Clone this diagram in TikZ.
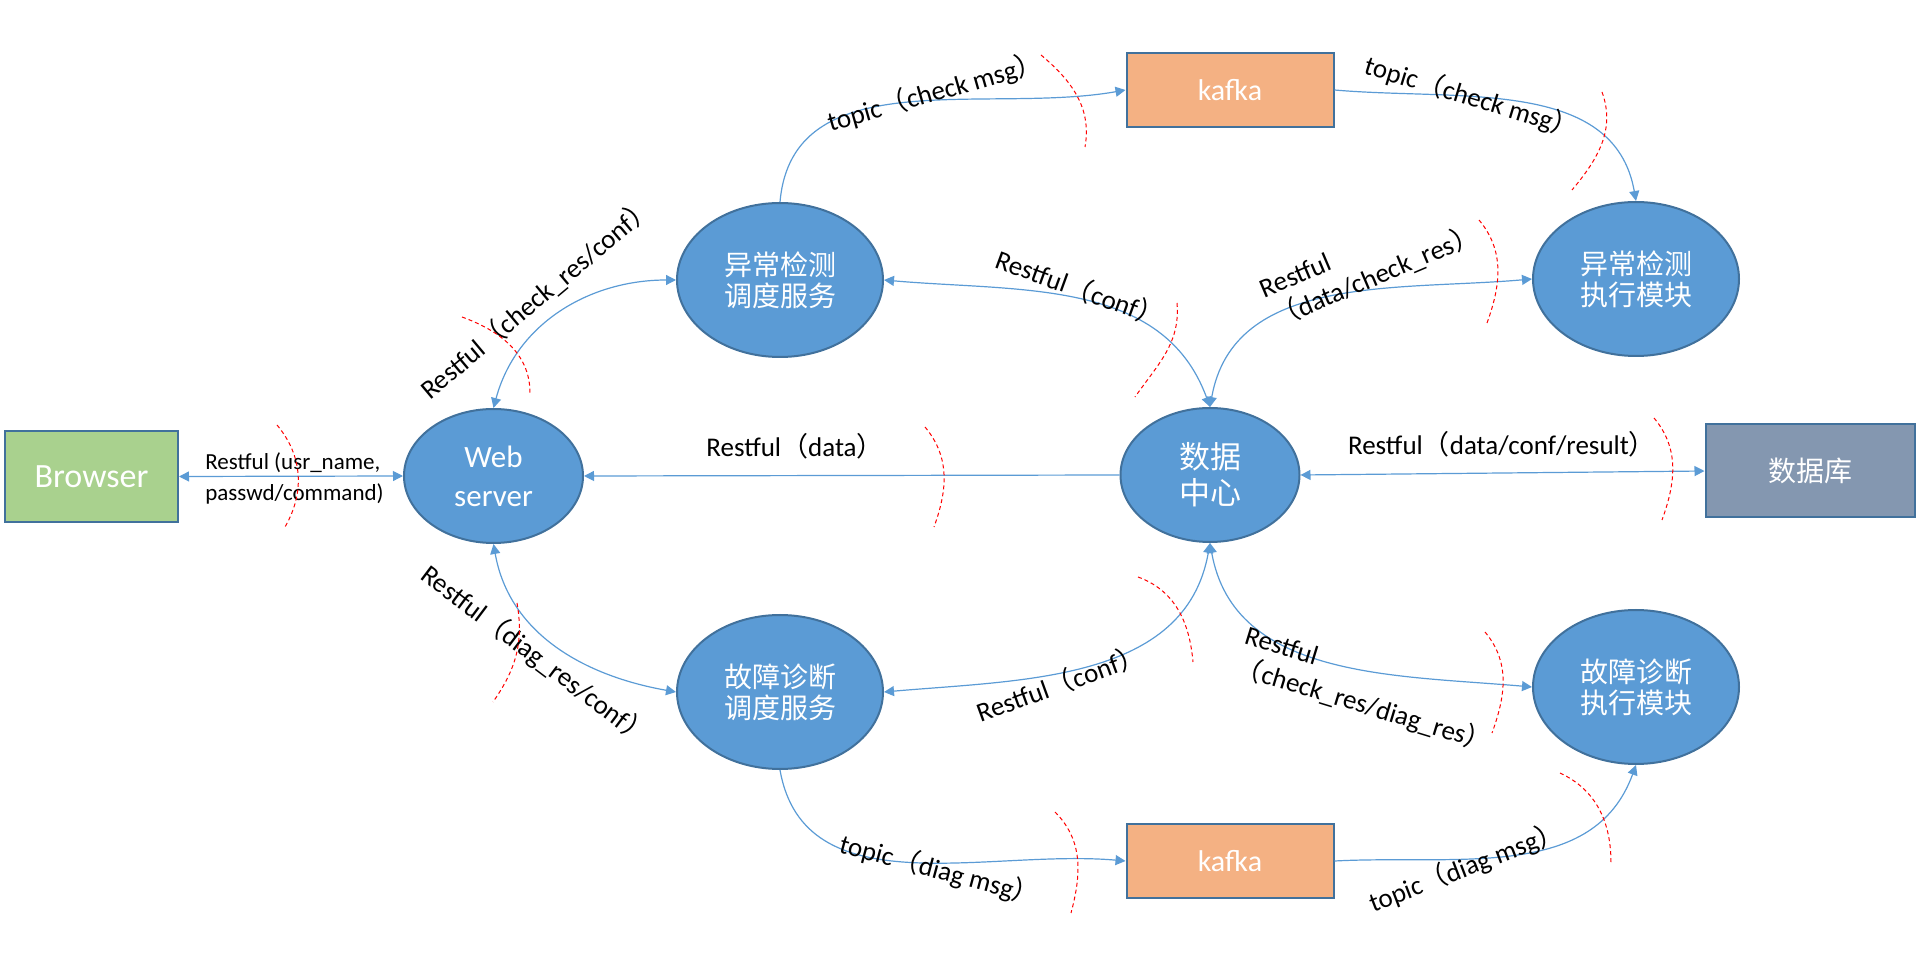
\documentclass[tikz,border=0pt]{standalone}
\usepackage{fontspec}
\setmainfont{Carlito}
\newfontfamily\cjk{Noto Sans CJK SC}
\usepackage{tikz}
\usetikzlibrary{arrows.meta, positioning, shapes.geometric}

\definecolor{nodeblue}{HTML}{5B9BD5}
\definecolor{rimblue}{HTML}{41719C}
\definecolor{kafkaorange}{HTML}{F4B183}
\definecolor{browsergreen}{HTML}{A9D18E}
\definecolor{dbgray}{HTML}{8497B0}

\newcommand{\fwl}{{\cjk （}}
\newcommand{\fwr}{{\cjk ）}}

\begin{document}
\begin{tikzpicture}[x=0.5pt, y=0.5pt,
    >={Triangle[length=5pt,width=5pt]},
    proc/.style={ellipse, draw=rimblue, line width=1pt, fill=nodeblue, text=white,
        inner sep=0pt, align=center, minimum width=103pt, minimum height=77pt,
        font=\cjk\fontsize{14}{15.5}\selectfont},
    hubproc/.style={proc, minimum width=89.5pt, minimum height=67pt},
    rectbox/.style={rectangle, draw=rimblue, line width=1pt, text=white, inner sep=0pt},
    oneway/.style={draw=nodeblue, line width=0.6pt, ->},
    twoway/.style={draw=nodeblue, line width=0.6pt, <->},
    lbl/.style={font=\fontsize{13.5}{16}\selectfont, inner sep=1pt},
    cut/.style={red, line width=0.5pt, dash pattern=on 2pt off 1.5pt}]

        \useasboundingbox (0,0) rectangle (1919,960);

        \node[rectbox, fill=browsergreen, minimum width=86.5pt, minimum height=45.5pt,
            font=\fontsize{17}{20}\selectfont] (browser) at (91.5,483.5) {Browser};
        \node[hubproc, font=\fontsize{15.5}{19.5}\selectfont] (web) at (493.5,484) {Web\\server};
        \node[hubproc, font=\cjk\fontsize{15.5}{18}\selectfont] (dc) at (1210,485) {数据\\中心};
        \node[rectbox, fill=dbgray, minimum width=104.5pt, minimum height=46.5pt,
            font=\cjk\fontsize{14}{16}\selectfont] (db) at (1810,489) {数据库};

        \node[proc] (csched) at (780,680) {异常检测\\调度服务};
        \node[proc] (dsched) at (780,268) {故障诊断\\调度服务};
        \node[proc] (cexec) at (1636,681) {异常检测\\执行模块};
        \node[proc] (dexec) at (1636,273) {故障诊断\\执行模块};

        \node[rectbox, fill=kafkaorange, minimum width=103.5pt, minimum height=37pt,
            font=\fontsize{15}{18}\selectfont] (kafkaup) at (1230,870) {kafka};
        \node[rectbox, fill=kafkaorange, minimum width=103.5pt, minimum height=37pt,
            font=\fontsize{15}{18}\selectfont] (kafkadown) at (1230,99) {kafka};

        \draw[twoway] (browser.east) -- (web.west);
        \draw[oneway] (dc.west) -- (web.east);
        \draw[twoway] (dc.east) -- (db.west);
        \draw[twoway] (web.north) to[out=75, in=180] (csched.west);
        \draw[twoway] (web.south) to[out=-80, in=170] (dsched.west);
        \draw[oneway] (csched.north) to[out=85, in=190] (kafkaup.west);
        \draw[oneway] (kafkaup.east) to[out=-5, in=100] (cexec.north);
        \draw[twoway] (csched.east) to[out=-5, in=110] (dc.north);
        \draw[twoway] (dc.north) to[out=80, in=185] (cexec.west);
        \draw[twoway] (dc.south) to[out=-100, in=5] (dsched.east);
        \draw[twoway] (dc.south) to[out=-80, in=175] (dexec.west);
        \draw[oneway] (dsched.south) to[out=-80, in=175] (kafkadown.west);
        \draw[oneway] (kafkadown.east) to[out=3, in=-110] (dexec.south);

        \node[lbl, align=left, font=\fontsize{11.5}{15.5}\selectfont] (login) at (294.5,482)
            {Restful (usr\_name,\\passwd/command)};
        \node[lbl, anchor=base] (data) at (795,503) {Restful\fwl data\fwr};
        \node[lbl, anchor=base] (store) at (1502,505) {Restful\fwl data/conf/result\fwr};
        \node[lbl, rotate=40] (chkres) at (537,662) {Restful\fwl check\_res/conf\fwr};
        \node[lbl, rotate=-37] (diagres) at (536,305) {Restful\fwl diag\_res/conf\fwr};
        \node[lbl, rotate=16] (topicA) at (935,868) {topic\fwl check msg\fwr};
        \node[lbl, rotate=-17] (topicB) at (1472,863) {topic\fwl check msg\fwr};
        \node[lbl, rotate=-15] (topicC) at (940,90) {topic\fwl diag msg\fwr};
        \node[lbl, rotate=21] (topicD) at (1466,93) {topic\fwl diag msg\fwr};
        \node[lbl, rotate=-20] (confA) at (1080,672) {Restful\fwl conf\fwr};
        \node[lbl, rotate=20] (confB) at (1060,277) {Restful\fwl conf\fwr};
        \node[lbl, rotate=23, align=left] (chkdata) at (1370,697) {Restful\\\fwl data/check\_res\fwr};
        \node[lbl, rotate=-17, align=left] (chkdiag) at (1368,269) {Restful\\\fwl check\_res/diag\_res\fwr};

        \foreach \xa/\ya/\xb/\yb/\o/\i in {277/535/285/433/-50/60, 462/643/530/567/-20/90,
            1041/905/1085/813/-40/80, 1602/868/1572/770/-70/50, 1177/657/1135/563/-85/55,
            1479/740/1487/637/-50/70, 925/533/934/433/-50/70, 1654/542/1662/440/-50/70,
            517/357/493/258/-80/55, 1138/383/1193/298/-20/95, 1485/328/1492/227/-50/70,
            1055/148/1071/47/-45/75, 1560/187/1611/97/-25/90}
        \draw[cut] (\xa,\ya) to[out=\o, in=\i] (\xb,\yb);
\end{tikzpicture}
\end{document}
